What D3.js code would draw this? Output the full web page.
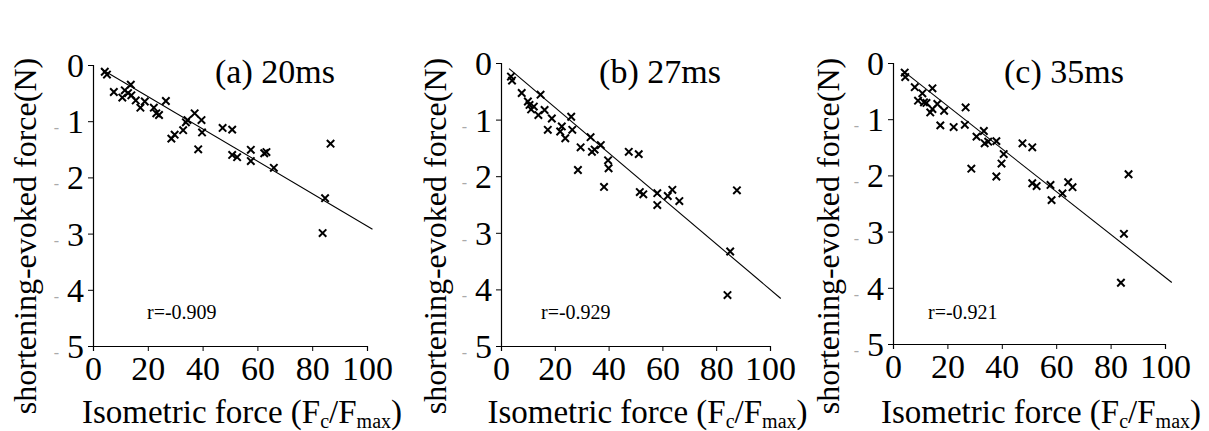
<!DOCTYPE html>
<html>
    <head>
        <!-- D3.js v7 -->
        <script src="https://d3js.org/d3.v7.min.js"></script>
    </head>
    <body style="margin:0; background:#fff">
        <svg width="1209" height="431" style="display:block"></svg>

        <script>
            // ---- data ----
            const titles = ["(a) 20ms", "(b) 27ms", "(c) 35ms"];
            const rLabels = ["r=-0.909", "r=-0.929", "r=-0.921"];
            const xTicks = [0, 20, 40, 60, 80, 100];
            const yTicks = [0, -1, -2, -3, -4, -5];

            // isometric force (Fc/Fmax)
            const xA = [4.3, 5.1, 7.6, 10.7, 11.6, 12.8, 13.8, 14.0, 15.6, 17.3, 18.9, 22.2, 23.1, 24.1, 26.6,
                        28.6, 29.8, 32.9, 33.9, 34.5, 37.1, 39.6, 39.8, 38.4, 47.3, 50.8, 50.8, 52.6, 57.6,
                        57.6, 62.5, 63.3, 66.0, 84.7, 83.8, 86.7];
            // shortening-evoked force (N)
            const yA = [-0.12, -0.17, -0.48, -0.58, -0.45, -0.50, -0.35, -0.54, -0.63, -0.76, -0.65, -0.76, -0.86,
                        -0.89, -0.64, -1.31, -1.24, -1.16, -1.02, -0.98, -0.86, -0.98, -1.20, -1.50, -1.12, -1.15,
                        -1.60, -1.64, -1.51, -1.71, -1.57, -1.55, -1.83, -2.37, -2.99, -1.40];

            const xB = [3.7, 4.1, 7.7, 14.7, 10.0, 10.6, 11.2, 12.2, 13.9, 16.2, 18.9, 17.4, 22.0, 22.6, 23.9,
                        26.1, 26.5, 28.6, 29.6, 33.3, 33.8, 34.8, 37.1, 38.3, 39.8, 40.0, 47.5, 51.2, 51.6,
                        52.9, 58.1, 58.1, 62.0, 63.7, 66.3, 85.2, 84.2, 87.7];
            const yB = [-0.24, -0.31, -0.53, -0.56, -0.68, -0.74, -0.82, -0.77, -0.92, -0.83, -0.98, -1.18, -1.21,
                        -1.12, -1.33, -0.95, -1.18, -1.89, -1.49, -1.31, -1.57, -1.53, -1.45, -2.19, -1.72, -1.86,
                        -1.57, -1.61, -2.28, -2.32, -2.30, -2.51, -2.35, -2.24, -2.44, -3.33, -4.10, -2.25];

            const xC = [4.3, 4.5, 8.0, 10.8, 14.5, 9.2, 11.4, 12.3, 13.7, 14.5, 16.3, 18.8, 17.4, 22.3, 26.7,
                        26.4, 28.8, 30.7, 33.4, 33.7, 35.0, 38.0, 38.0, 39.9, 40.7, 47.6, 51.2, 51.2, 52.8,
                        57.9, 58.3, 62.3, 64.4, 66.0, 83.8, 84.9, 86.6];
            const yC = [-0.17, -0.25, -0.43, -0.54, -0.45, -0.67, -0.70, -0.71, -0.88, -0.82, -0.73, -0.85, -1.11,
                        -1.14, -0.79, -1.10, -1.88, -1.31, -1.21, -1.43, -1.40, -1.39, -2.02, -1.79, -1.62, -1.43,
                        -1.50, -2.14, -2.19, -2.17, -2.44, -2.32, -2.12, -2.21, -3.91, -3.04, -1.98];

            // regression lines: [intercept, slope, xStart, xEnd]
            const fitA = [0.016, -0.0288, 3, 102];
            const fitB = [0.02, -0.0402, 3, 104];
            const fitC = [0.0, -0.0381, 3, 102.5];

            const seriesX = [xA, xB, xC];
            const seriesY = [yA, yB, yC];
            const fits = [fitA, fitB, fitC];

            const FONT = "Liberation Serif";

            // ---- layout of the three panels (pixel positions of the plot box) ----
            const panels = [
                { x0: 93, x1: 367, y0: 65, y1: 346, yLab: 36, title: 275, rx: 147 },
                { x0: 501, x1: 770, y0: 63, y1: 346, yLab: 446, title: 660, rx: 541 },
                { x0: 893, x1: 1165, y0: 63, y1: 344, yLab: 839, title: 1064, rx: 928 }
            ];

            const svg = d3.select("svg").attr("font-family", FONT);

            panels.forEach((p, i) => {
                const g = svg.append("g");

                const x = d3.scaleLinear().domain([0, 100]).range([p.x0, p.x1]);
                const y = d3.scaleLinear().domain([0, -5]).range([p.y0, p.y1]);

                // x axis
                const gx = g.append("g")
                    .attr("transform", `translate(0,${p.y1})`)
                    .call(d3.axisBottom(x).tickValues(xTicks).tickSize(5).tickPadding(5).tickFormat(d3.format("d")));
                gx.attr("font-family", FONT);
                gx.select(".domain").attr("stroke", "#000").attr("stroke-width", 1.2);
                gx.selectAll(".tick line").attr("stroke", "#000");
                gx.selectAll(".tick text")
                    .attr("font-family", FONT)
                    .attr("font-size", 34)
                    .attr("fill", "#000");

                // y axis (values negative, minus signs printed faint)
                const gy = g.append("g")
                    .attr("transform", `translate(${p.x0},0)`)
                    .call(d3.axisLeft(y).tickValues(yTicks).tickSize(5).tickPadding(4).tickFormat(""));
                gy.attr("font-family", FONT);
                gy.select(".domain").attr("stroke", "#000").attr("stroke-width", 1.2);
                gy.selectAll(".tick line").attr("stroke", "#000");
                gy.selectAll(".tick").append("text")
                    .attr("x", -9)
                    .attr("dy", "0.34em")
                    .attr("text-anchor", "end")
                    .attr("font-family", FONT)
                    .attr("font-size", 34)
                    .attr("fill", "#000")
                    .each(function (d) {
                        const t = d3.select(this);
                        if (d < 0) {
                            t.append("tspan").attr("fill", "#aaa").attr("font-size", 16)
                                .text("-\u2002");
                        }
                        t.append("tspan").text(Math.abs(d));
                    });

                // regression line
                const f = fits[i];
                g.append("line")
                    .attr("x1", x(f[2])).attr("y1", y(f[0] + f[1] * f[2]))
                    .attr("x2", x(f[3])).attr("y2", y(f[0] + f[1] * f[3]))
                    .attr("stroke", "#000")
                    .attr("stroke-width", 1.1);

                // crosses
                const pts = seriesX[i].map((v, k) => [v, seriesY[i][k]]);
                const s = 3.7;
                g.append("g")
                    .selectAll("path")
                    .data(pts)
                    .join("path")
                    .attr("d", d => {
                        const cx = x(d[0]), cy = y(d[1]);
                        return `M${cx - s},${cy - s}L${cx + s},${cy + s}M${cx - s},${cy + s}L${cx + s},${cy - s}`;
                    })
                    .attr("stroke", "#000")
                    .attr("stroke-width", 2)
                    .attr("fill", "none");

                // title
                g.append("text")
                    .attr("x", p.title)
                    .attr("y", 83)
                    .attr("text-anchor", "middle")
                    .attr("font-family", FONT)
                    .attr("font-size", 34)
                    .text(titles[i]);

                // correlation
                g.append("text")
                    .attr("x", p.rx)
                    .attr("y", 319)
                    .attr("font-family", FONT)
                    .attr("font-size", 20)
                    .text(rLabels[i]);

                // y label
                g.append("text")
                    .attr("transform", `translate(${p.yLab},236) rotate(-90)`)
                    .attr("text-anchor", "middle")
                    .attr("font-family", FONT)
                    .attr("font-size", 32)
                    .text("shortening-evoked force(N)");

                // x label
                const xl = g.append("text")
                    .attr("x", (p.x0 + p.x1) / 2 + 12)
                    .attr("y", 423)
                    .attr("text-anchor", "middle")
                    .attr("font-family", FONT)
                    .attr("font-size", 33);
                xl.append("tspan").text("Isometric force (F");
                xl.append("tspan").attr("font-size", 20).attr("dy", 5).text("c");
                xl.append("tspan").attr("dy", -5).text("/F");
                xl.append("tspan").attr("font-size", 20).attr("dy", 5).text("max");
                xl.append("tspan").attr("dy", -5).text(")");
            });
        </script>
    </body>
</html>
